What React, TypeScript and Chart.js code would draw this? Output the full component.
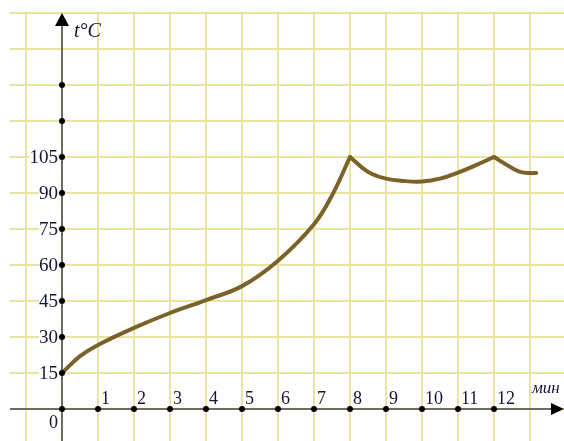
import React, { useEffect, useRef } from 'react';
import { Chart, registerables } from 'chart.js';

Chart.register(...registerables);

// Tick labels
const xTickLabels = [1, 2, 3, 4, 5, 6, 7, 8, 9, 10, 11, 12];
const yTickLabels = [15, 30, 45, 60, 75, 90, 105];
const yExtraDots = [120, 135];
const xGridValues = [-1, 0, 1, 2, 3, 4, 5, 6, 7, 8, 9, 10, 11, 12, 13];
const yGridValues = [0, 15, 30, 45, 60, 75, 90, 105, 120, 135, 150, 165];

// Heating curve, in three pieces (cusps at 8 and 12 minutes)
const heatTime = [0, 0.5, 1, 2, 3, 4, 5, 6, 7, 7.5, 8];
const heatTemp = [15, 22, 26.7, 33.8, 40, 45.4, 51.2, 61.8, 77, 89, 105];
const dipTime = [8, 8.5, 9, 9.5, 10, 10.5, 11, 11.5, 12];
const dipTemp = [105, 98.8, 96, 95, 94.8, 96, 98.5, 101.6, 105];
const tailTime = [12, 12.5, 12.75, 13, 13.17];
const tailTemp = [105, 100.4, 98.7, 98.3, 98.3];

const X_MIN = -13 / 9;
const X_MAX = 13.944;
const Y_MIN = -13.333;
const Y_MAX = 165;

const CURVE_COLOR = '#7a6228';
const GRID_COLOR = '#ebe3a6';
const AXIS_COLOR = '#6c6c5c';
const TEXT_COLOR = '#14143a';
const SERIF = "'Liberation Serif', 'Times New Roman', serif";

const toPts = (xs: number[], ys: number[]) => xs.map((x, i) => ({ x, y: ys[i] }));

const paperPlugin = {
  id: 'paper',
  beforeDatasetsDraw(chart: any) {
    const { ctx, chartArea: a, scales } = chart;
    const sx = scales.x;
    const sy = scales.y;
    ctx.save();
    ctx.strokeStyle = GRID_COLOR;
    ctx.lineWidth = 2;
    xGridValues.forEach((v) => {
      const px = Math.round(sx.getPixelForValue(v));
      ctx.beginPath();
      ctx.moveTo(px, a.top);
      ctx.lineTo(px, a.bottom);
      ctx.stroke();
    });
    yGridValues.forEach((v) => {
      const py = Math.round(sy.getPixelForValue(v));
      ctx.beginPath();
      ctx.moveTo(a.left, py);
      ctx.lineTo(a.right, py);
      ctx.stroke();
    });

    // y labels with white background
    ctx.font = `19px ${SERIF}`;
    ctx.textAlign = 'right';
    ctx.textBaseline = 'middle';
    const x0 = sx.getPixelForValue(0);
    yTickLabels.forEach((v) => {
      const py = sy.getPixelForValue(v);
      const t = String(v);
      const w = ctx.measureText(t).width;
      ctx.fillStyle = '#ffffff';
      ctx.fillRect(x0 - 4 - w, py - 8, w, 16);
      ctx.fillStyle = TEXT_COLOR;
      ctx.fillText(t, x0 - 4, py + 1);
    });

    // axes
    const y0 = sy.getPixelForValue(0);
    ctx.strokeStyle = AXIS_COLOR;
    ctx.lineWidth = 2;
    ctx.beginPath();
    ctx.moveTo(a.left, y0);
    ctx.lineTo(a.right - 10, y0);
    ctx.stroke();
    ctx.beginPath();
    ctx.moveTo(x0, a.bottom);
    ctx.lineTo(x0, a.top + 10);
    ctx.stroke();
    ctx.fillStyle = '#000000';
    ctx.beginPath();
    ctx.moveTo(a.right, y0);
    ctx.lineTo(a.right - 13, y0 - 6);
    ctx.lineTo(a.right - 13, y0 + 6);
    ctx.closePath();
    ctx.fill();
    ctx.beginPath();
    ctx.moveTo(x0, a.top);
    ctx.lineTo(x0 - 7, a.top + 13);
    ctx.lineTo(x0 + 7, a.top + 13);
    ctx.closePath();
    ctx.fill();
    ctx.restore();
  },
  afterDatasetsDraw(chart: any) {
    const { ctx, scales } = chart;
    const sx = scales.x;
    const sy = scales.y;
    const x0 = sx.getPixelForValue(0);
    const y0 = sy.getPixelForValue(0);
    ctx.save();
    ctx.fillStyle = '#000000';
    const dot = (px: number, py: number) => {
      ctx.beginPath();
      ctx.arc(px, py, 3, 0, Math.PI * 2);
      ctx.fill();
    };
    dot(x0, y0);
    xTickLabels.forEach((v) => dot(sx.getPixelForValue(v), y0));
    yTickLabels.forEach((v) => dot(x0, sy.getPixelForValue(v)));
    yExtraDots.forEach((v) => dot(x0, sy.getPixelForValue(v)));

    ctx.fillStyle = TEXT_COLOR;
    ctx.font = `18px ${SERIF}`;
    ctx.textAlign = 'left';
    ctx.textBaseline = 'alphabetic';
    xTickLabels.forEach((v) => {
      ctx.fillText(String(v), sx.getPixelForValue(v) + 3, y0 - 5);
    });
    ctx.textAlign = 'right';
    ctx.fillText('0', x0 - 4, y0 + 19);

    ctx.font = `italic 20px ${SERIF}`;
    ctx.textAlign = 'left';
    ctx.fillText('t°C', x0 + 12, 37);
    ctx.font = `italic 17px ${SERIF}`;
    ctx.fillText('мин', sx.getPixelForValue(13) + 2, y0 - 16);
    ctx.restore();
  },
};

const lineDs = (data: { x: number; y: number }[]) => ({
  data,
  borderColor: CURVE_COLOR,
  borderWidth: 4,
  pointRadius: 0,
  fill: false,
  tension: 0.4,
  borderCapStyle: 'round' as const,
  borderJoinStyle: 'round' as const,
});

export default function App() {
  const ref = useRef<HTMLCanvasElement>(null);
  useEffect(() => {
    if (!ref.current) return;
    const chart = new Chart(ref.current, {
      type: 'line',
      data: {
        datasets: [
          lineDs(toPts(heatTime, heatTemp)),
          lineDs(toPts(dipTime, dipTemp)),
          lineDs(toPts(tailTime, tailTemp)),
        ],
      },
      options: {
        responsive: false,
        animation: false,
        events: [],
        layout: { padding: { left: 10, top: 13, right: 0, bottom: 0 } },
        plugins: { legend: { display: false }, tooltip: { enabled: false } },
        scales: {
          x: { type: 'linear', min: X_MIN, max: X_MAX, display: false },
          y: { type: 'linear', min: Y_MIN, max: Y_MAX, display: false },
        },
      },
      plugins: [paperPlugin],
    });
    return () => chart.destroy();
  }, []);
  return (
    <div style={{ position: 'fixed', left: 0, top: 0, width: 564, height: 441, background: '#fff' }}>
      <canvas ref={ref} width={564} height={441} style={{ width: 564, height: 441 }} />
    </div>
  );
}
